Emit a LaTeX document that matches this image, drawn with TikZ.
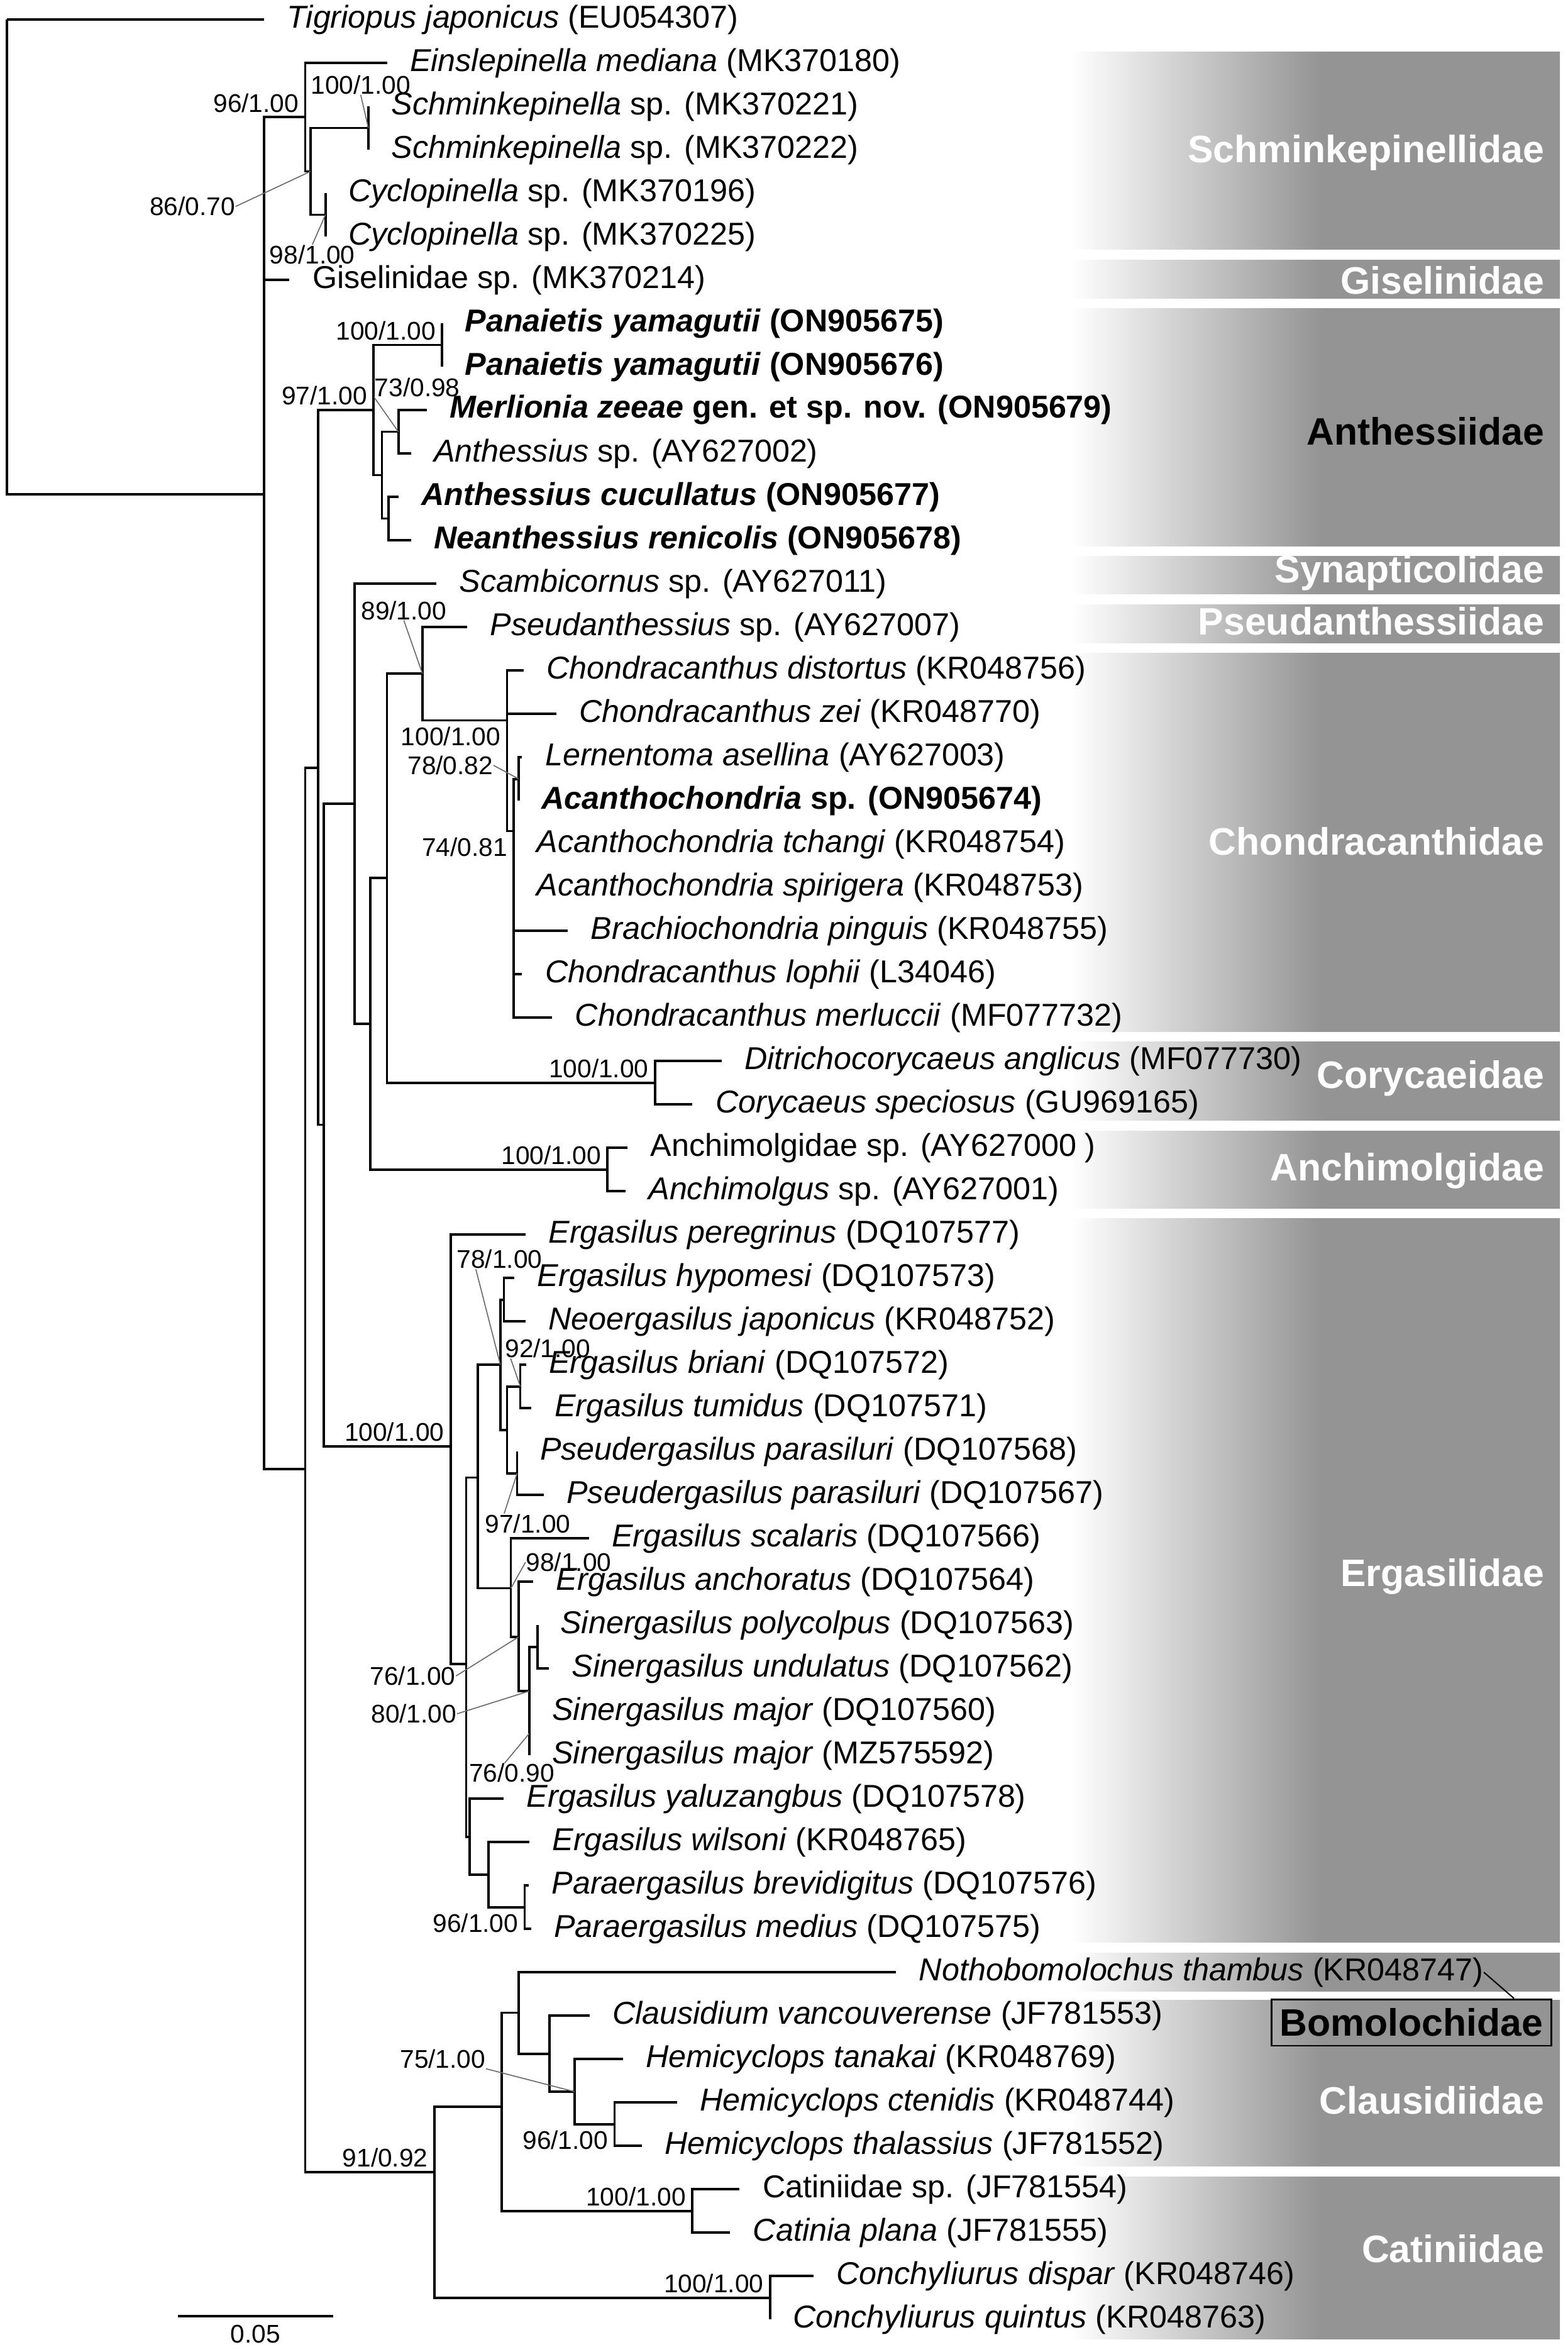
\documentclass[tikz,border=0pt]{standalone}
\usepackage{tikz}
\usepackage{fontspec}
\setmainfont{Liberation Sans}
\definecolor{famgray}{gray}{0.58}
\pgfdeclarehorizontalshading{famfade}{100bp}{color(0bp)=(white); color(25bp)=(white); color(50.5bp)=(famgray); color(100bp)=(famgray)}
\newcommand{\taxfont}{\fontsize{12}{14}\selectfont}
\newcommand{\supfont}{\fontsize{9.7}{11}\selectfont}
\newcommand{\famfont}{\fontsize{14.5}{17}\selectfont\bfseries}
\tikzset{
  treeline/.style={line width=0.9pt},
  leader/.style  ={line width=0.4pt, gray!85!black},
  taxon/.style   ={anchor=west, inner xsep=0.3cm, inner ysep=0pt, font=\taxfont},
  supl/.style    ={anchor=east, inner sep=0pt, font=\supfont},
  supa/.style    ={supl, xshift=-0.08cm, yshift=0.19cm},
  supb/.style    ={supl, xshift=-0.08cm, yshift=-0.21cm},
  famband/.style ={shading=famfade},
  famlab/.style  ={anchor=east, inner sep=0pt, font=\famfont, text=white},
  bomo/.style    ={draw, line width=0.7pt, inner sep=0pt, font=\famfont,
                   minimum width=3.73cm, minimum height=0.62cm},
}

\begin{document}
\begin{tikzpicture}[x=0.02cm, y=-0.5786cm]
\useasboundingbox (0,0.5506) rectangle (1045,54.75);
% ---- family bands (drawn first, text goes on top) ----
\foreach \t/\b in {1.750/6.299, 6.538/7.433, 7.664/13.133, 13.375/14.239,
                   14.481/15.362, 15.604/24.322, 24.557/26.368, 26.610/28.400,
                   28.635/45.307, 45.549/46.437, 46.644/50.464, 50.720/54.456}
  \shade[famband] (714,\t) rectangle (1040,\b);
% ---- internal nodes (x = branch length, y = row) ----
\coordinate (R)    at (4.7,1);
\coordinate (N1)   at (176,11.94);
\coordinate (A)    at (203.5,3.25);
\coordinate (B)    at (207,4.5);
\coordinate (C)    at (245.6,3.5);
\coordinate (D)    at (217,5.5);
\coordinate (N3)   at (203.5,34.4);
\coordinate (N4)   at (212,18.25);
\coordinate (Anth) at (249,10);
\coordinate (Pan)  at (294.7,8.5);
\coordinate (P2)   at (254.6,11.5);
\coordinate (MA)   at (265.6,10.5);
\coordinate (CN)   at (259,12.5);
\coordinate (N5)   at (216,26.47);
\coordinate (N6)   at (236.5,19.07);
\coordinate (N7)   at (247,24.14);
\coordinate (N8)   at (258,20.78);
\coordinate (N9)   at (281.6,16.07);
\coordinate (N10)  at (338.1,17.15);
\coordinate (N11)  at (342.6,19.70);
\coordinate (N12)  at (345.8,18.5);
\coordinate (Cory) at (436.7,25.5);
\coordinate (Anch) at (405,27.5);
\coordinate (E0)   at (300.4,33.88);
\coordinate (E1)   at (310.8,38.9);
\coordinate (E2)   at (318.5,34.6);
\coordinate (E3)   at (333.6,32);
\coordinate (HN)   at (336,30.5);
\coordinate (E5)   at (338.1,33.5);
\coordinate (BT)   at (346.9,32.5);
\coordinate (PP)   at (344.8,34.5);
\coordinate (E4)   at (340.6,37.15);
\coordinate (E6)   at (345.8,38.27);
\coordinate (E7)   at (352.8,39.52);
\coordinate (E8)   at (358.3,38.5);
\coordinate (Em)   at (352.8,40.5);
\coordinate (El)   at (313,42.88);
\coordinate (WP)   at (325.7,43.75);
\coordinate (Pa)   at (349.8,44.5);
\coordinate (Ncl)  at (289.6,50.6);
\coordinate (Q1)   at (334.5,49.1);
\coordinate (Q2)   at (345.8,46.93);
\coordinate (Q3)   at (366.5,47.88);
\coordinate (Q4)   at (383,48.75);
\coordinate (Q5)   at (409.7,49.5);
\coordinate (Cat)  at (461.5,51.5);
\coordinate (Cn)   at (513.4,53.5);
% ---- taxa ----
\node[taxon] (t1)  at (176,1)    {\textit{Tigriopus japonicus} (EU054307)};
\node[taxon] (t2)  at (258,2)    {\textit{Einslepinella mediana} (MK370180)};
\node[taxon] (t3)  at (245.6,3)  {\textit{Schminkepinella} sp. (MK370221)};
\node[taxon] (t4)  at (245.6,4)  {\textit{Schminkepinella} sp. (MK370222)};
\node[taxon] (t5)  at (217,5)    {\textit{Cyclopinella} sp. (MK370196)};
\node[taxon] (t6)  at (217,6)    {\textit{Cyclopinella} sp. (MK370225)};
\node[taxon] (t7)  at (193,7)    {Giselinidae sp. (MK370214)};
\node[taxon] (t8)  at (294.7,8)  {\textbf{\textit{Panaietis yamagutii} (ON905675)}};
\node[taxon] (t9)  at (294.7,9)  {\textbf{\textit{Panaietis yamagutii} (ON905676)}};
\node[taxon] (t10) at (284.7,10) {\textbf{\textit{Merlionia zeeae} gen. et sp. nov. (ON905679)}};
\node[taxon] (t11) at (274,11)   {\textit{Anthessius} sp. (AY627002)};
\node[taxon] (t12) at (265.6,12) {\textbf{\textit{Anthessius cucullatus} (ON905677)}};
\node[taxon] (t13) at (274,13)   {\textbf{\textit{Neanthessius renicolis} (ON905678)}};
\node[taxon] (t14) at (291,14)   {\textit{Scambicornus} sp. (AY627011)};
\node[taxon] (t15) at (311.4,15) {\textit{Pseudanthessius} sp. (AY627007)};
\node[taxon] (t16) at (349,16)   {\textit{Chondracanthus distortus} (KR048756)};
\node[taxon] (t17) at (370.8,17) {\textit{Chondracanthus zei} (KR048770)};
\node[taxon] (t18) at (348.1,18) {\textit{Lernentoma asellina} (AY627003)};
\node[taxon] (t19) at (345.8,19) {\textbf{\textit{Acanthochondria} sp. (ON905674)}};
\node[taxon] (t20) at (342.6,20) {\textit{Acanthochondria tchangi} (KR048754)};
\node[taxon] (t21) at (342.6,21) {\textit{Acanthochondria spirigera} (KR048753)};
\node[taxon] (t22) at (378.6,22) {\textit{Brachiochondria pinguis} (KR048755)};
\node[taxon] (t23) at (348.1,23) {\textit{Chondracanthus lophii} (L34046)};
\node[taxon] (t24) at (368.1,24) {\textit{Chondracanthus merluccii} (MF077732)};
\node[taxon] (t25) at (481,25)   {\textit{Ditrichocorycaeus anglicus} (MF077730)};
\node[taxon] (t26) at (461.7,26) {\textit{Corycaeus speciosus} (GU969165)};
\node[taxon] (t27) at (418.3,27) {Anchimolgidae sp. (AY627000\ )};
\node[taxon] (t28) at (417,28)   {\textit{Anchimolgus} sp. (AY627001)};
\node[taxon] (t29) at (350.4,29) {\textit{Ergasilus peregrinus} (DQ107577)};
\node[taxon] (t30) at (343,30)   {\textit{Ergasilus hypomesi} (DQ107573)};
\node[taxon] (t31) at (350.4,31) {\textit{Neoergasilus japonicus} (KR048752)};
\node[taxon] (t32) at (350.7,32) {\textit{Ergasilus briani} (DQ107572)};
\node[taxon] (t33) at (354.4,33) {\textit{Ergasilus tumidus} (DQ107571)};
\node[taxon] (t34) at (344.8,34) {\textit{Pseudergasilus parasiluri} (DQ107568)};
\node[taxon] (t35) at (362.5,35) {\textit{Pseudergasilus parasiluri} (DQ107567)};
\node[taxon] (t36) at (392.6,36) {\textit{Ergasilus scalaris} (DQ107566)};
\node[taxon] (t37) at (355.5,37) {\textit{Ergasilus anchoratus} (DQ107564)};
\node[taxon] (t38) at (358.3,38) {\textit{Sinergasilus polycolpus} (DQ107563)};
\node[taxon] (t39) at (366,39)   {\textit{Sinergasilus undulatus} (DQ107562)};
\node[taxon] (t40) at (352.8,40) {\textit{Sinergasilus major} (DQ107560)};
\node[taxon] (t41) at (352.8,41) {\textit{Sinergasilus major} (MZ575592)};
\node[taxon] (t42) at (335.8,42) {\textit{Ergasilus yaluzangbus} (DQ107578)};
\node[taxon] (t43) at (353,43)   {\textit{Ergasilus wilsoni} (KR048765)};
\node[taxon] (t44) at (352.5,44) {\textit{Paraergasilus brevidigitus} (DQ107576)};
\node[taxon] (t45) at (354,45)   {\textit{Paraergasilus medius} (DQ107575)};
\node[taxon] (t46) at (597.4,46) {\textit{Nothobomolochus thambus} (KR048747)};
\node[taxon] (t47) at (393,47)   {\textit{Clausidium vancouverense} (JF781553)};
\node[taxon] (t48) at (415.3,48) {\textit{Hemicyclops tanakai} (KR048769)};
\node[taxon] (t49) at (451.4,49) {\textit{Hemicyclops ctenidis} (KR048744)};
\node[taxon] (t50) at (427.9,50) {\textit{Hemicyclops thalassius} (JF781552)};
\node[taxon] (t51) at (493.1,51) {Catiniidae sp. (JF781554)};
\node[taxon] (t52) at (486.7,52) {\textit{Catinia plana} (JF781555)};
\node[taxon] (t53) at (542.3,53) {\textit{Conchyliurus dispar} (KR048746)};
\node[taxon] (t54) at (513.4,54) {\textit{Conchyliurus quintus} (KR048763)};
% ---- branches ----
\foreach \p/\c in {R/t1, R/N1, N1/A, N1/t7, N1/N3, A/t2, A/B, B/C, B/D,
    C/t3, C/t4, D/t5, D/t6, N3/N4, N3/Ncl, N4/Anth, N4/N5,
    Anth/Pan, Anth/P2, Pan/t8, Pan/t9, P2/MA, P2/CN, MA/t10, MA/t11, CN/t12, CN/t13,
    N5/N6, N5/E0, N6/t14, N6/N7, N7/N8, N7/Anch, N8/N9, N8/Cory,
    N9/t15, N9/N10, N10/t16, N10/t17, N10/N11,
    N11/N12, N11/t20, N11/t21, N11/t22, N11/t23, N11/t24, N12/t18, N12/t19,
    Cory/t25, Cory/t26, Anch/t27, Anch/t28,
    E0/t29, E0/E1, E1/E2, E1/El, E2/E3, E2/E4, E3/HN, E3/E5, HN/t30, HN/t31,
    E5/BT, E5/PP, BT/t32, BT/t33, PP/t34, PP/t35, E4/t36, E4/E6, E6/t37, E6/E7,
    E7/E8, E7/Em, E8/t38, E8/t39, Em/t40, Em/t41, El/t42, El/WP, WP/t43, WP/Pa,
    Pa/t44, Pa/t45, Ncl/Q1, Ncl/Cn, Q1/Q2, Q1/Cat, Q2/t46, Q2/Q3, Q3/t47, Q3/Q4,
    Q4/t48, Q4/Q5, Q5/t49, Q5/t50, Cat/t51, Cat/t52, Cn/t53, Cn/t54}
  \draw[treeline] (\p) |- (\c);
% ---- support values next to nodes ----
\node[supa] (sA)    at (A)    {96/1.00};
\node[supa] (sAnth) at (Anth) {97/1.00};
\node[supa] (sPan)  at (Pan)  {100/1.00};
\node[supa] (sCory) at (Cory) {100/1.00};
\node[supa] (sAnch) at (Anch) {100/1.00};
\node[supa] (sE0)   at (E0)   {100/1.00};
\node[supa] (sNcl)  at (Ncl)  {91/0.92};
\node[supa] (sCat)  at (Cat)  {100/1.00};
\node[supa] (sCn)   at (Cn)   {100/1.00};
\node[supb] (sN10)  at (N10)  {100/1.00};
\node[supb] (sN11)  at (N11)  {74/0.81};
\node[supb] (sPa)   at (Pa)   {96/1.00};
\node[supb] (sQ5)   at (Q5)   {96/1.00};
% ---- support values with leaders ----
\node[supl] (sC)   at (274,2.507)    {100/1.00};
\node[supl] (sD)   at (237,6.417)    {98/1.00};
\node[supl] (sB)   at (157,5.310)    {86/0.70};
\node[supl] (sMA)  at (307,9.476)    {73/0.98};
\node[supl] (sN9)  at (298,14.616)   {89/1.00};
\node[supl] (sN12) at (329,18.186)   {78/0.82};
\node[supl] (sE3)  at (361.8,29.569) {78/1.00};
\node[supl] (sBT)  at (394,31.626)   {92/1.00};
\node[supl] (sPP)  at (380.7,35.656) {97/1.00};
\node[supl] (sE4)  at (407.9,36.551) {98/1.00};
\node[supl] (sE6)  at (304,39.172)   {76/1.00};
\node[supl] (sE7)  at (304.7,40.043) {80/1.00};
\node[supl] (sEm)  at (370,41.408)   {76/0.90};
\node[supl] (sQ4)  at (324,47.993)   {75/1.00};
\draw[leader] (sC.south) -- (C);
\draw[leader] (sD.north) -- (D);
\draw[leader] (sB.east) -- (B);
\draw[leader] (sMA.south west) -- (MA);
\draw[leader] (sN9.south) -- (N9);
\draw[leader] (sN12.east) -- (N12);
\draw[leader] ([xshift=0.26cm]sE3.south west) -- (E3);
\draw[leader] ([xshift=0.08cm]sBT.south west) -- (BT);
\draw[leader] ([xshift=0.26cm]sPP.north west) -- (PP);
\draw[leader] (sE4.west) -- (E4);
\draw[leader] (sE6.east) -- (E6);
\draw[leader] (sE7.east) -- (E7);
\draw[leader] ([xshift=0.48cm]sEm.north west) -- (Em);
\draw[leader] (sQ4.south east) -- (Q4);
% ---- scale bar ----
\coordinate (sbL) at (118.6,53.92);
\coordinate (sbR) at (222.2,53.92);
\draw[treeline] (sbL) -- (sbR);
\node[font=\supfont, inner sep=0pt] (sbT) at (170.4,54.33) {0.05};
% ---- family names ----
\node[famlab] (fSch) at (1030,4.063)  {Schminkepinellidae};
\node[famlab] (fGis) at (1030,7.015)  {Giselinidae};
\node[famlab, text=black] (fAnt) at (1030,10.485) {Anthessiidae};
\node[famlab] (fSyn) at (1030,13.755) {Synapticolidae};
\node[famlab] (fPse) at (1030,14.861) {Pseudanthessiidae};
\node[famlab] (fCho) at (1030,19.942) {Chondracanthidae};
\node[famlab] (fCor) at (1030,25.404) {Corycaeidae};
\node[famlab] (fAnc) at (1030,27.526) {Anchimolgidae};
\node[famlab] (fErg) at (1030,36.880) {Ergasilidae};
\node[bomo]   (fBom) at (941,47.156)  {Bomolochidae};
\node[famlab] (fCla) at (1030,48.947) {Clausidiidae};
\node[famlab] (fCat) at (1030,52.376) {Catiniidae};
\draw[line width=0.5pt] ([xshift=-0.3cm]t46.east) -- ([xshift=-0.51cm]fBom.north east);
\end{tikzpicture}
\end{document}
